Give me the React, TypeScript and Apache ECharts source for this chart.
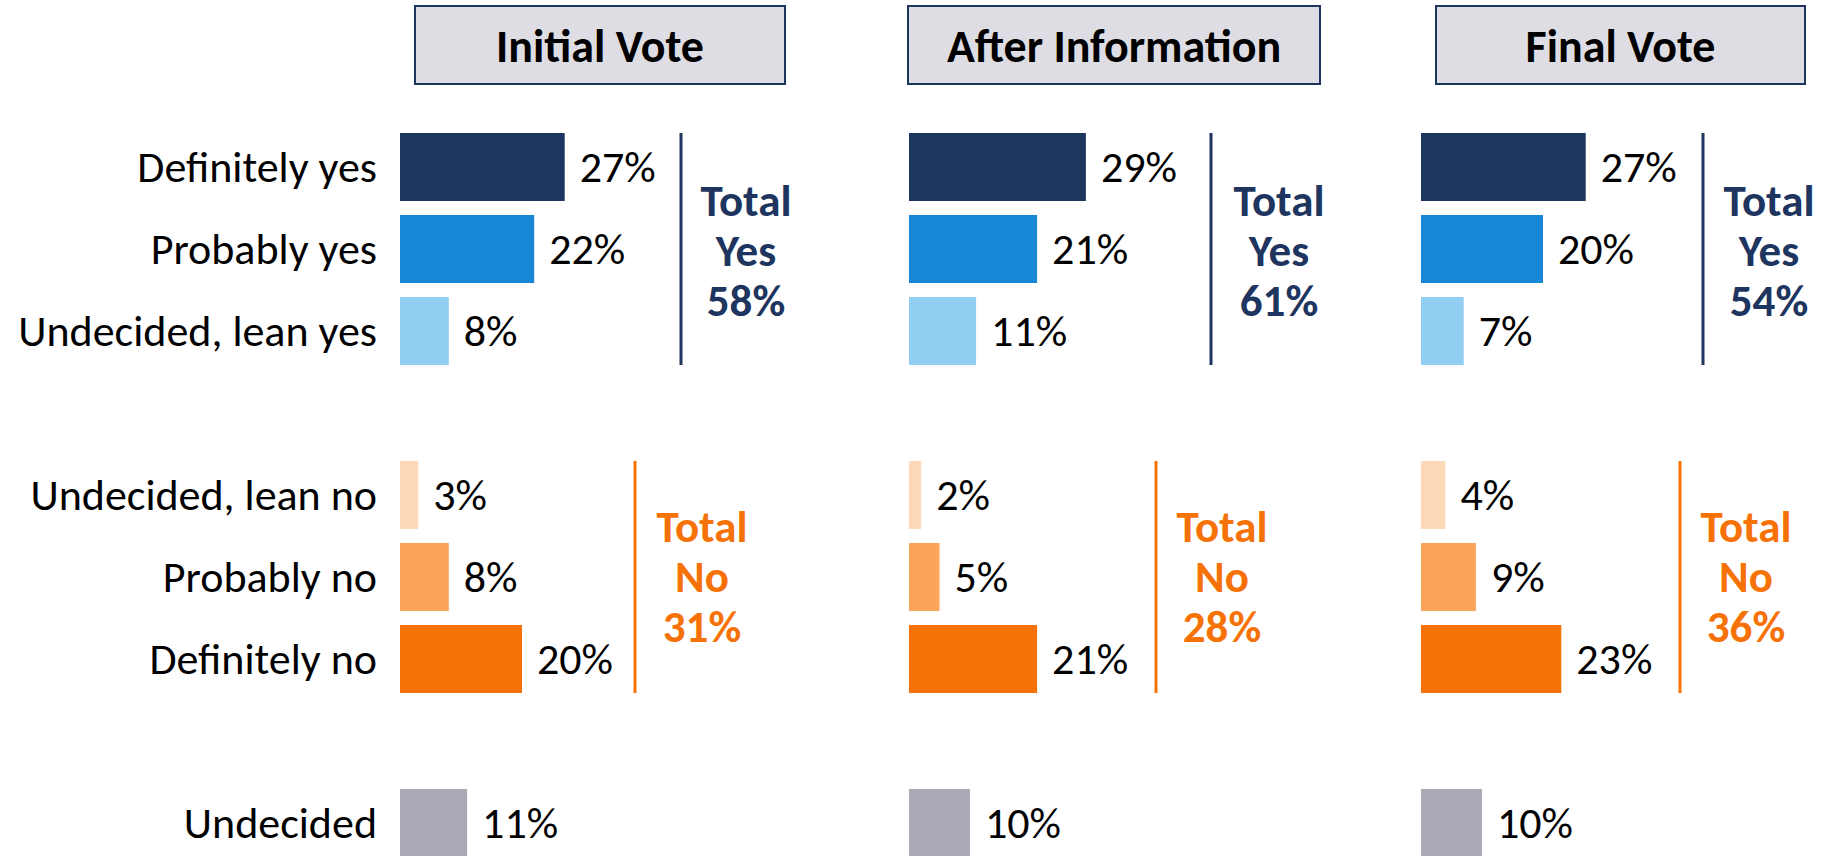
import React, { useEffect, useRef } from "react";
import * as echarts from "echarts";

const categories = [
  "Definitely yes",
  "Probably yes",
  "Undecided, lean yes",
  "",
  "Undecided, lean no",
  "Probably no",
  "Definitely no",
  "",
  "Undecided",
];
const panelTitles = ["Initial Vote", "After Information", "Final Vote"];
const initialVote = [27, 22, 8, null, 3, 8, 20, null, 11];
const afterInformation = [29, 21, 11, null, 2, 5, 21, null, 10];
const finalVote = [27, 20, 7, null, 4, 9, 23, null, 10];
const panelValues = [initialVote, afterInformation, finalVote];
const totalYes = [58, 61, 54];
const totalNo = [31, 28, 36];

const barColors = [
  "#1E3560",
  "#1787D6",
  "#92CDF2",
  "#FFFFFF",
  "#FDD8B9",
  "#FBA358",
  "#F77206",
  "#FFFFFF",
  "#A9AAB6",
];
const NAVY = "#1E3560";
const ORANGE = "#F77206";
const FONT = "Carlito, Lato, sans-serif";

// layout
const gridLefts = [400, 909, 1421];
const boxes = [
  [415, 785],
  [908, 1320],
  [1436, 1805],
];
const yesLineX = [681, 1211, 1703];
const yesTextX = [746, 1279, 1769];
const noLineX = [635, 1156, 1680];
const noTextX = [702, 1222, 1746];

export default function App() {
  const ref = useRef<HTMLDivElement>(null);
  useEffect(() => {
    if (!ref.current) return;
    const chart = echarts.init(ref.current, null, { renderer: "svg" });
    const grids = gridLefts.map((l) => ({ left: l, top: 126, width: 244, height: 738 }));
    const xAxes = gridLefts.map((_, i) => ({
      type: "value",
      gridIndex: i,
      min: 0,
      max: 40,
      show: false,
    }));
    const yAxes = gridLefts.map((_, i) => ({
      type: "category",
      gridIndex: i,
      inverse: true,
      data: categories,
      axisLine: { show: false },
      axisTick: { show: false },
      splitLine: { show: false },
      axisLabel: {
        show: i === 0,
        color: "#000",
        fontSize: 44,
        fontFamily: FONT,
        margin: 23,
      },
    }));
    const series = panelValues.map((vals, i) => ({
      type: "bar",
      xAxisIndex: i,
      yAxisIndex: i,
      barWidth: 68,
      data: vals.map((v, k) =>
        v == null ? "-" : { value: v, itemStyle: { color: barColors[k] } }
      ),
      label: {
        show: true,
        position: "right",
        distance: 15,
        color: "#000",
        fontSize: 44,
        fontFamily: FONT,
        formatter: (p: any) => p.value + "%",
      },
    }));
    const graphic: any[] = [];
    boxes.forEach(([x1, x2], i) => {
      graphic.push({
        type: "rect",
        shape: { x: x1, y: 6, width: x2 - x1, height: 78 },
        style: { fill: "#DEDDE3", stroke: NAVY, lineWidth: 2 },
      });
      graphic.push({
        type: "text",
        x: (x1 + x2) / 2,
        y: 46,
        style: {
          text: panelTitles[i],
          fill: "#000",
          font: `bold 46px ${FONT}`,
          align: "center",
          verticalAlign: "middle",
        },
      });
      graphic.push({
        type: "line",
        shape: { x1: yesLineX[i], y1: 133, x2: yesLineX[i], y2: 365 },
        style: { stroke: NAVY, lineWidth: 3 },
      });
      graphic.push({
        type: "line",
        shape: { x1: noLineX[i], y1: 461, x2: noLineX[i], y2: 693 },
        style: { stroke: ORANGE, lineWidth: 3 },
      });
      graphic.push({
        type: "text",
        x: yesTextX[i],
        y: 250,
        style: {
          text: `Total\nYes\n${totalYes[i]}%`,
          fill: NAVY,
          font: `bold 45px ${FONT}`,
          lineHeight: 50,
          align: "center",
          verticalAlign: "middle",
        },
      });
      graphic.push({
        type: "text",
        x: noTextX[i],
        y: 576,
        style: {
          text: `Total\nNo\n${totalNo[i]}%`,
          fill: ORANGE,
          font: `bold 45px ${FONT}`,
          lineHeight: 50,
          align: "center",
          verticalAlign: "middle",
        },
      });
    });
    chart.setOption({
      animation: false,
      backgroundColor: "#fff",
      grid: grids,
      xAxis: xAxes,
      yAxis: yAxes,
      series,
      graphic,
    });
    return () => chart.dispose();
  }, []);
  return (
    <div
      style={{
        position: "fixed",
        left: 0,
        top: 0,
        width: 1833,
        height: 856,
        overflow: "hidden",
        background: "#fff",
      }}
    >
      <div ref={ref} style={{ width: 1833, height: 870 }} />
    </div>
  );
}
